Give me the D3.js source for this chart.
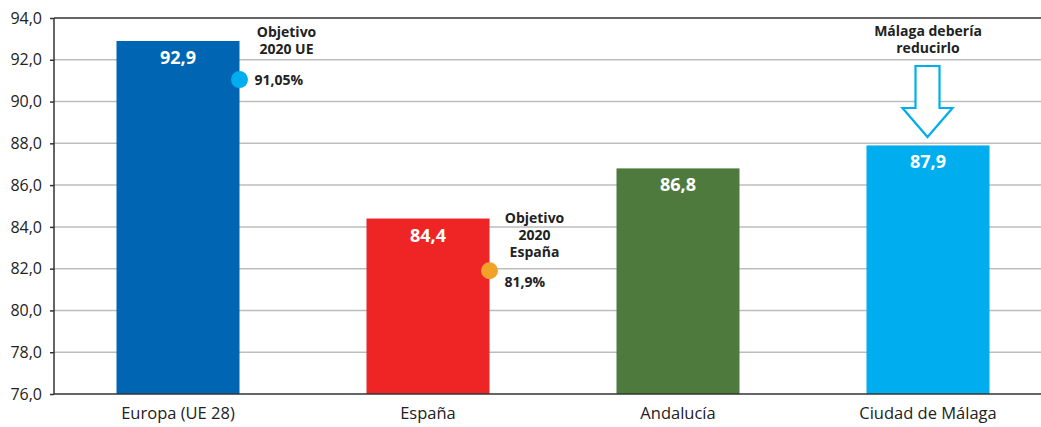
<!DOCTYPE html>
<html>
<head>
    <style>
        body { margin: 0; background: #fff; }
        svg text { font-family: "Open Sans", "DejaVu Sans", sans-serif; }
        .val { font-size: 18px; font-weight: bold; fill: #fff; text-anchor: middle; }
        .note { font-size: 14px; font-weight: bold; fill: #222; }
    </style>
    <script src="https://d3js.org/d3.v7.min.js"></script>
</head>
<body>
<svg width="1041" height="427"></svg>
<script>
    // data
    var categories = ["Europa (UE 28)", "España", "Andalucía", "Ciudad de Málaga"];
    var values = [92.9, 84.4, 86.8, 87.9];
    var colors = ["#0066b3", "#ee2524", "#4f7a3e", "#00aeef"];
    var yTicks = [76, 78, 80, 82, 84, 86, 88, 90, 92, 94];
    var targetCats = ["Europa (UE 28)", "España"];
    var targetValues = [91.05, 81.9];
    var targetLabels = ["91,05%", "81,9%"];
    var targetColors = ["#00aeef", "#f2a229"];

    var svg = d3.select("svg");
    var fmt = function (v) { return d3.format(".1f")(v).replace(".", ","); };

    var x = d3.scaleBand().domain(categories).range([53, 1053])
        .paddingInner(0.508).paddingOuter(0.254);
    var y = d3.scaleLinear().domain([76, 94]).range([394, 18]);

    // gridlines
    svg.append("g").selectAll("line")
        .data(yTicks.slice(1, -1))
        .enter().append("line")
        .attr("x1", 54).attr("x2", 1041)
        .attr("y1", function (d) { return y(d); })
        .attr("y2", function (d) { return y(d); })
        .attr("stroke", "#bdbdbd").attr("stroke-width", 1.5);

    // top border
    svg.append("line")
        .attr("x1", 54).attr("x2", 1041)
        .attr("y1", y(94)).attr("y2", y(94))
        .attr("stroke", "#333").attr("stroke-width", 1.5);

    // bars
    svg.append("g").selectAll("rect")
        .data(values)
        .enter().append("rect")
        .attr("x", function (d, i) { return x(categories[i]); })
        .attr("y", function (d) { return y(d); })
        .attr("width", x.bandwidth())
        .attr("height", function (d) { return y(76) - y(d); })
        .attr("fill", function (d, i) { return colors[i]; });

    svg.append("g").selectAll("text")
        .data(values)
        .enter().append("text")
        .attr("class", "val")
        .attr("x", function (d, i) { return x(categories[i]) + x.bandwidth() / 2; })
        .attr("y", function (d) { return y(d) + 23; })
        .text(fmt);

    // axes
    var yAxis = svg.append("g")
        .attr("transform", "translate(54,0)")
        .call(d3.axisLeft(y).tickValues(yTicks).tickFormat(fmt).tickSize(4).tickPadding(8));
    yAxis.selectAll("line, path").attr("stroke", "#333").attr("stroke-width", 1.5);
    yAxis.select(".domain").attr("d", "M0," + y(94) + "V" + y(76));
    yAxis.selectAll("text").style("font-size", "16px").attr("fill", "#222");

    var xAxis = svg.append("g")
        .attr("transform", "translate(0," + y(76) + ")")
        .call(d3.axisBottom(x).tickSize(0).tickPadding(13));
    xAxis.select(".domain").attr("d", "M54,0H1041").attr("stroke", "#333").attr("stroke-width", 1.5);
    xAxis.selectAll("text").style("font-size", "16.5px").attr("fill", "#222");

    // targets
    targetCats.forEach(function (c, i) {
        var cx = x(c) + x.bandwidth();
        var cy = y(targetValues[i]);
        svg.append("circle").attr("cx", cx).attr("cy", cy).attr("r", 8.5)
            .attr("fill", targetColors[i]);
        svg.append("text").attr("class", "note")
            .attr("x", cx + 15).attr("y", cy + (i === 0 ? 5 : 16))
            .text(targetLabels[i]);
    });

    var cx1 = x(categories[0]) + x.bandwidth() + 47;
    var n1 = svg.append("text").attr("class", "note").attr("text-anchor", "middle")
        .attr("x", cx1).attr("y", 37);
    n1.append("tspan").attr("x", cx1).text("Objetivo");
    n1.append("tspan").attr("x", cx1).attr("dy", 17).text("2020 UE");

    var cx2 = x(categories[1]) + x.bandwidth() + 45;
    var n2 = svg.append("text").attr("class", "note").attr("text-anchor", "middle")
        .attr("x", cx2).attr("y", 223);
    ["Objetivo", "2020", "España"].forEach(function (t, i) {
        n2.append("tspan").attr("x", cx2).attr("dy", i === 0 ? 0 : 17).text(t);
    });

    var cx3 = x(categories[3]) + x.bandwidth() / 2;
    var n3 = svg.append("text").attr("class", "note").attr("text-anchor", "middle")
        .attr("x", cx3).attr("y", 36);
    n3.append("tspan").attr("x", cx3).text("Málaga debería");
    n3.append("tspan").attr("x", cx3).attr("dy", 17).text("reducirlo");

    // arrow
    var ax = cx3 - 0.5, arrowTop = 66, neck = 108, tip = 137;
    svg.append("path")
        .attr("d", "M" + (ax - 12) + "," + arrowTop + "H" + (ax + 12) + "V" + neck +
            "H" + (ax + 25) + "L" + ax + "," + tip + "L" + (ax - 25) + "," + neck +
            "H" + (ax - 12) + "Z")
        .attr("fill", "#fff").attr("stroke", "#00aeef").attr("stroke-width", 2.2);
</script>
</body>
</html>
